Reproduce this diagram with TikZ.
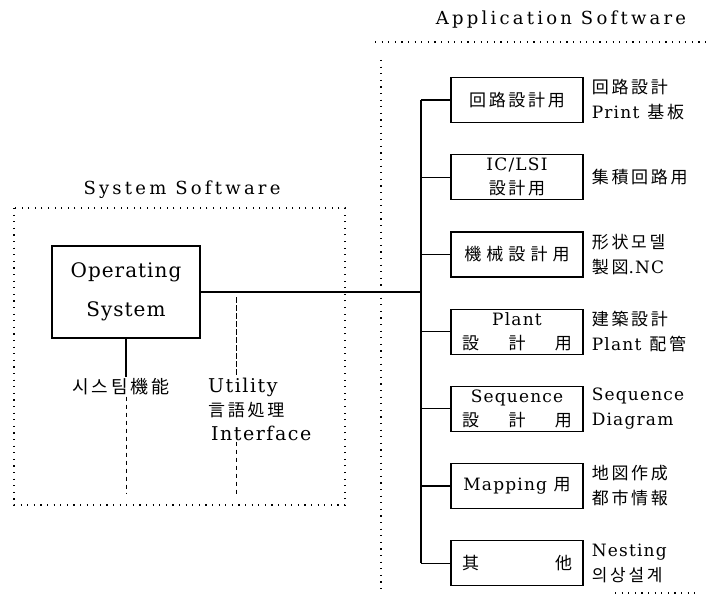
\documentclass[tikz,border=0pt]{standalone}
\usepackage{fontspec}
\setmainfont{DejaVu Serif}
\newfontfamily\cjk{Noto Sans CJK JP}[LetterSpace=16]
\usetikzlibrary{positioning}
\newcommand\spreadrow[1]{\makebox[110pt]{\cjk #1}}
\tikzset{
	frm/.style={line width=1.1pt,dash pattern=on 1.1pt off 5.5pt},
	lnk/.style={line width=1.2pt},
	brk/.style={line width=0.9pt,dash pattern=on 4pt off 4pt},
	hdr/.style={font=\fontsize{18}{22}\selectfont\addfontfeatures{LetterSpace=18}},
	osbox/.style={draw,line width=1.2pt,minimum width=148pt,minimum height=92pt,align=center,
		font=\fontsize{20}{39}\selectfont\addfontfeatures{LetterSpace=5}},
	swbox/.style={draw,line width=1.2pt,minimum width=132pt,minimum height=45pt,inner sep=1pt,align=center,
		font=\fontsize{17}{24}\selectfont\addfontfeatures{LetterSpace=7}},
	use/.style={inner sep=1pt,align=left,font=\fontsize{17}{25}\selectfont\addfontfeatures{LetterSpace=7}}
}

\begin{document}
\begin{tikzpicture}[x=1pt,y=-1pt]
	\useasboundingbox (0,0) rectangle (709,602);

	% dotted frames
	\draw[frm] (14,208) rectangle (345,505);
	\draw[frm] (375,42) -- (706,42);
	\draw[frm] (381,60) -- (381,590);
	\draw[frm] (615,593) -- (697,593);

	\node[hdr] (systitle) at (182,190) {System Software};
	\node[hdr] (apptitle) at (561,20) {Application Software};

	% system side
	\node[osbox] (os) at (126,292) {Operating\\System};
	\node[use,font=\fontsize{18}{25}\selectfont] (sysfn) at (121,387) {\cjk 시스팀機能};
	\node[use,anchor=west,font=\fontsize{19}{24}\selectfont\addfontfeatures{LetterSpace=8}] (util) at (207,409)
		{Utility\\{\fontsize{17}{24}\cjk 言語処理}\\\hspace{3pt}Interface};
	\coordinate (sysend) at (126,494);
	\coordinate (ujoin) at (236,297);

	\draw[lnk] (os.south) -- (os.south |- sysfn.north);
	\draw[brk] (os.south |- sysfn.south) -- (sysend);
	\draw[line width=0.8pt,dash pattern=on 6pt off 2pt] (ujoin) -- (ujoin |- util.north);
	\draw[brk] (util.south -| ujoin) -- (ujoin |- sysend);

	% application side
	\node[swbox] (a1) at (517,100) {\cjk 回路設計用};
	\node[swbox,below=31pt of a1] (a2) {IC/LSI\\{\cjk 設計用}};
	\node[swbox,below=31pt of a2] (a3) {\cjk\addfontfeatures{LetterSpace=30}機械設計用};
	\node[swbox,below=31pt of a3] (a4) {Plant\\\spreadrow{設\hfill{}計\hfill{}用}};
	\node[swbox,below=31pt of a4] (a5) {Sequence\\\spreadrow{設\hfill{}計\hfill{}用}};
	\node[swbox,below=31pt of a5] (a6) {Mapping {\cjk 用}};
	\node[swbox,below=31pt of a6] (a7) {\spreadrow{其\hfill{}他}};

	\node[use,right=7pt of a1] (u1) {{\cjk 回路設計}\\Print\hspace{8pt}{\cjk 基板}};
	\node[use,right=7pt of a2] (u2) {\cjk 集積回路用};
	\node[use,right=7pt of a3] (u3) {{\cjk 形状모델}\\{\cjk 製図}.NC};
	\node[use,right=7pt of a4] (u4) {{\cjk 建築設計}\\Plant\hspace{8pt}{\cjk 配管}};
	\node[use,right=7pt of a5] (u5) {Sequence\\Diagram};
	\node[use,right=7pt of a6] (u6) {{\cjk 地図作成}\\{\cjk 都市情報}};
	\node[use,right=7pt of a7] (u7) {Nesting\\{\cjk 의상설계}};

	\coordinate (bus) at (421,0);
	\draw[lnk] (a1.west -| bus) -- (a7.west -| bus);
	\foreach \n in {1,...,7}
		\draw[lnk] (a\n.west -| bus) -- (a\n.west);
	\draw[lnk] (os.east) -- (os.east -| bus);
\end{tikzpicture}
\end{document}
